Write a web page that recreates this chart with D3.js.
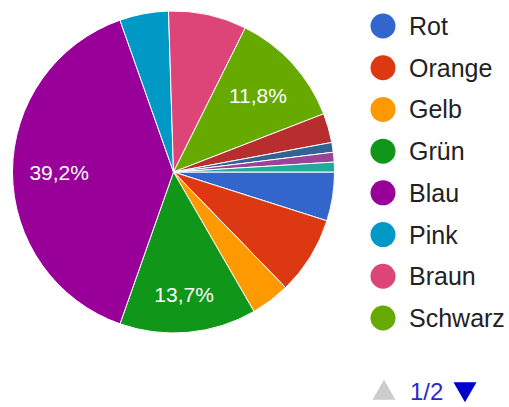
<!DOCTYPE html>
<html>
<head>
<meta charset="utf-8">
<script src="https://cdn.jsdelivr.net/npm/d3@7"></script>
<style>
  body { margin: 0; background: #fff; }
  svg { display: block; font-family: Arial, "Liberation Sans", sans-serif; }
</style>
</head>
<body>
<div id="chart"></div>
<script>
  // --------------------------- data ---------------------------
  const categories = ["Rot", "Orange", "Gelb", "Grün", "Blau", "Pink", "Braun", "Schwarz",
                      "Weiß", "Grau", "Lila", "Türkis"];
  const counts = [5, 8, 4, 14, 40, 5, 8, 12, 3, 1, 1, 1];
  const colors = ["#3366cc", "#dc3912", "#ff9900", "#109618", "#990099", "#0099c6",
                  "#dd4477", "#66aa00", "#b82e2e", "#316395", "#994499", "#22aa99"];
  const legendPage = [0, 1, 2, 3, 4, 5, 6, 7]; // first page of the legend
  const pageLabel = "1/2";

  const width = 509;
  const height = 407;

  const svg = d3.select("#chart")
    .append("svg")
    .attr("width", width)
    .attr("height", height);

  // --------------------------- pie ---------------------------
  const cx = 173.5, cy = 172, radius = 161;
  const total = d3.sum(counts);

  const pie = d3.pie()
    .sort(null)
    .value(d => d)
    .startAngle(Math.PI / 2)
    .endAngle(Math.PI / 2 + 2 * Math.PI);

  const arc = d3.arc().innerRadius(0).outerRadius(radius);
  const labelArc = d3.arc().innerRadius(radius * 0.71).outerRadius(radius * 0.71);

  const g = svg.append("g").attr("transform", `translate(${cx},${cy})`);

  const slices = pie(counts);

  g.selectAll("path")
    .data(slices)
    .join("path")
    .attr("d", arc)
    .attr("fill", (d, i) => colors[i])
    .attr("stroke", "#fff")
    .attr("stroke-width", 1);

  // only big slices get a percentage text
  const fmt = v => (v * 100).toFixed(1).replace(".", ",") + "%";
  g.selectAll("text")
    .data(slices.filter(d => d.value / total > 0.1))
    .join("text")
    .attr("transform", d => {
      const [x, y] = labelArc.centroid(d);
      // labels at the bottom sit a bit lower, like the original
      return `translate(${x},${y + Math.max(0, y) * 0.08})`;
    })
    .attr("text-anchor", "middle")
    .attr("dy", "0.36em")
    .attr("fill", "#fff")
    .attr("font-size", 21)
    .text(d => fmt(d.value / total));

  // --------------------------- legend ---------------------------
  const legendY = d3.scalePoint()
    .domain(legendPage)
    .range([26, 318]);

  const legend = svg.append("g");
  const rows = legend.selectAll("g")
    .data(legendPage)
    .join("g")
    .attr("transform", i => `translate(383,${legendY(i)})`);

  rows.append("circle")
    .attr("r", 12.5)
    .attr("fill", i => colors[i]);

  rows.append("text")
    .attr("x", 26)
    .attr("y", 9)
    .attr("font-size", 25)
    .attr("fill", "#222")
    .text(i => categories[i]);

  // pager
  const pager = svg.append("g").attr("transform", "translate(0,391)");
  pager.append("path")
    .attr("d", d3.symbol().type(d3.symbolTriangle).size(230))
    .attr("transform", "translate(384,2)")
    .attr("fill", "#cccccc");
  pager.append("text")
    .attr("x", 410)
    .attr("y", 9)
    .attr("font-size", 24)
    .attr("fill", "#2a2acc")
    .text(pageLabel);
  pager.append("path")
    .attr("d", d3.symbol().type(d3.symbolTriangle).size(230))
    .attr("transform", "translate(465,-2) rotate(180)")
    .attr("fill", "#0000cc");
</script>
</body>
</html>
